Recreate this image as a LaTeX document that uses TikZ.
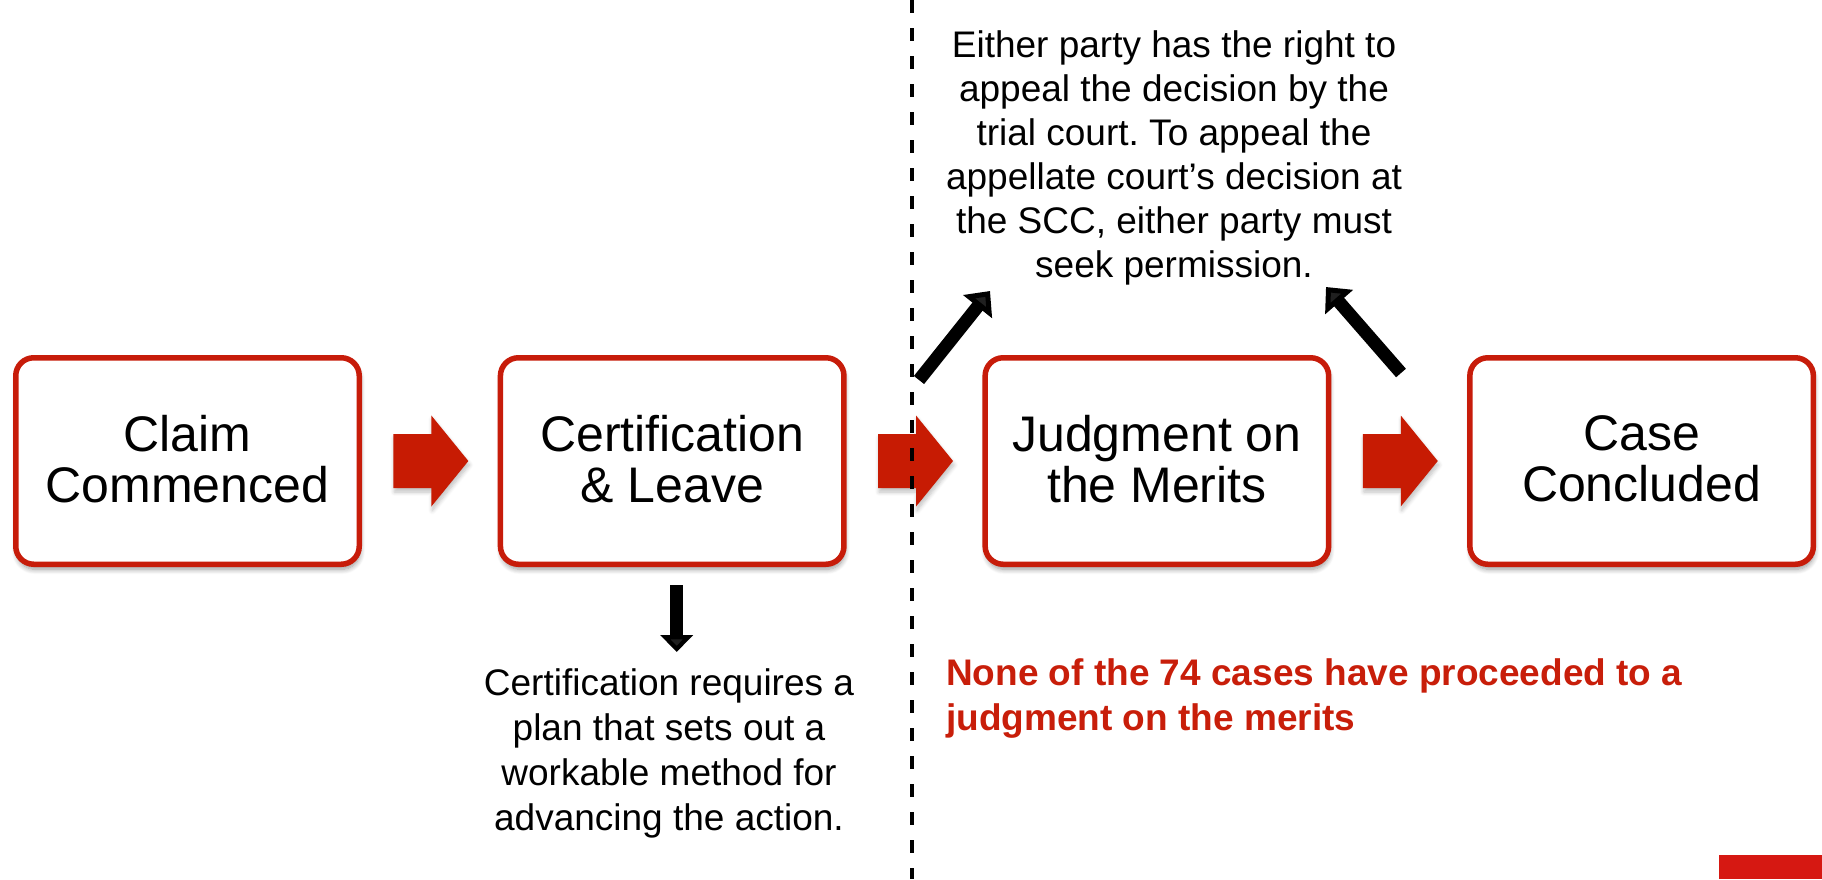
\documentclass[tikz,border=0pt]{standalone}
\usepackage{fontspec}
\setmainfont{Liberation Sans}
\usetikzlibrary{calc,arrows.meta,shadows.blur}

\definecolor{boxred}{RGB}{199,28,10}
\definecolor{arrred}{RGB}{199,27,3}
\definecolor{txtred}{RGB}{200,30,10}
\definecolor{cornerred}{RGB}{214,24,18}

\frenchspacing

\begin{document}
\begin{tikzpicture}[x=1pt,y=1pt,
  stage/.style={draw=boxred, line width=5.5pt, rounded corners=18pt, fill=white,
    minimum width=343.5pt, minimum height=206.5pt, align=center, inner sep=0pt,
    text depth=5pt, font=\fontsize{50}{51}\selectfont,
    blur shadow={shadow xshift=1pt, shadow yshift=-5pt, shadow blur radius=5pt,
      shadow blur steps=8, shadow opacity=40}},
  note/.style={inner sep=0pt, align=center, font=\fontsize{37}{44}\selectfont},
  blockarrow/.style={fill=arrred,
    blur shadow={shadow xshift=1pt, shadow yshift=-4pt, shadow blur radius=4pt,
      shadow blur steps=6, shadow opacity=25}},
  pointer/.style={line width=13pt, -{Triangle[width=36pt,length=20pt]}},
  divider/.style={line width=4pt, dash pattern=on 13pt off 15pt},
]
\useasboundingbox (0,0) rectangle (1822,-879);

% the four stages of the proceeding
\node[stage] (claim) at (187.5,-461) {Claim\\Commenced};
\node[stage] (cert)  at (672.2,-461) {Certification\\\& Leave};
\node[stage] (judg)  at (1156.9,-461) {Judgment on\\the Merits};
\node[stage] (done)  at (1641.6,-461) {Case\\Concluded};

% red block arrows between consecutive stages
\foreach \a/\b/\n in {claim/cert/1, cert/judg/2, judg/done/3} {
  \coordinate (mid\n) at ($(\a.east)!0.5!(\b.west)+(1,0)$);
  \fill[blockarrow] ($(mid\n)+(-37.5,27)$) -- ++(38,0) -- ++(0,18.5)
    -- ($(mid\n)+(37.5,0)$) -- ($(mid\n)+(0.5,-45.5)$) -- ++(0,18.5)
    -- ($(mid\n)+(-37.5,-27)$) -- cycle;
}

% dividing line
\coordinate (divtop) at (912,0);
\coordinate (divbot) at (912,-879);
\draw[divider] (divtop) -- (divbot);

% explanatory notes
\node[note, anchor=north] (appeal) at (1174,-30)
  {Either party has the right to\\appeal the decision by the\\trial court. To appeal the\\appellate court’s decision at\\the SCC, either party must\\seek permission.};
\node[note, anchor=north, font=\fontsize{37}{45}\selectfont] (plan) at (669,-668)
  {Certification requires a\\plan that sets out a\\workable method for\\advancing the action.};
\node[note, anchor=north west, align=left, text=txtred,
  font=\bfseries\fontsize{37}{45}\selectfont] (none) at (946,-658)
  {None of the 74 cases have proceeded to a\\judgment on the merits};

% black pointers
\coordinate (leftfoot) at (919,-380);
\coordinate (lefttip) at (990,-291);
\coordinate (rightfoot) at (1401,-373);
\coordinate (righttip) at (1326,-287);
\draw[pointer] (leftfoot) -- (lefttip);
\draw[pointer] (rightfoot) -- (righttip);
\coordinate (downfoot) at ($(cert.south)+(4.5,-18)$);
\draw[pointer, line width=13pt, -{Triangle[width=32pt,length=17pt]}] (downfoot) -- ++(0,-67);

% corner tab
\node[fill=cornerred, minimum width=103pt, minimum height=24pt, inner sep=0pt,
  anchor=south east] (tab) at (1822,-879) {};
\end{tikzpicture}
\end{document}
